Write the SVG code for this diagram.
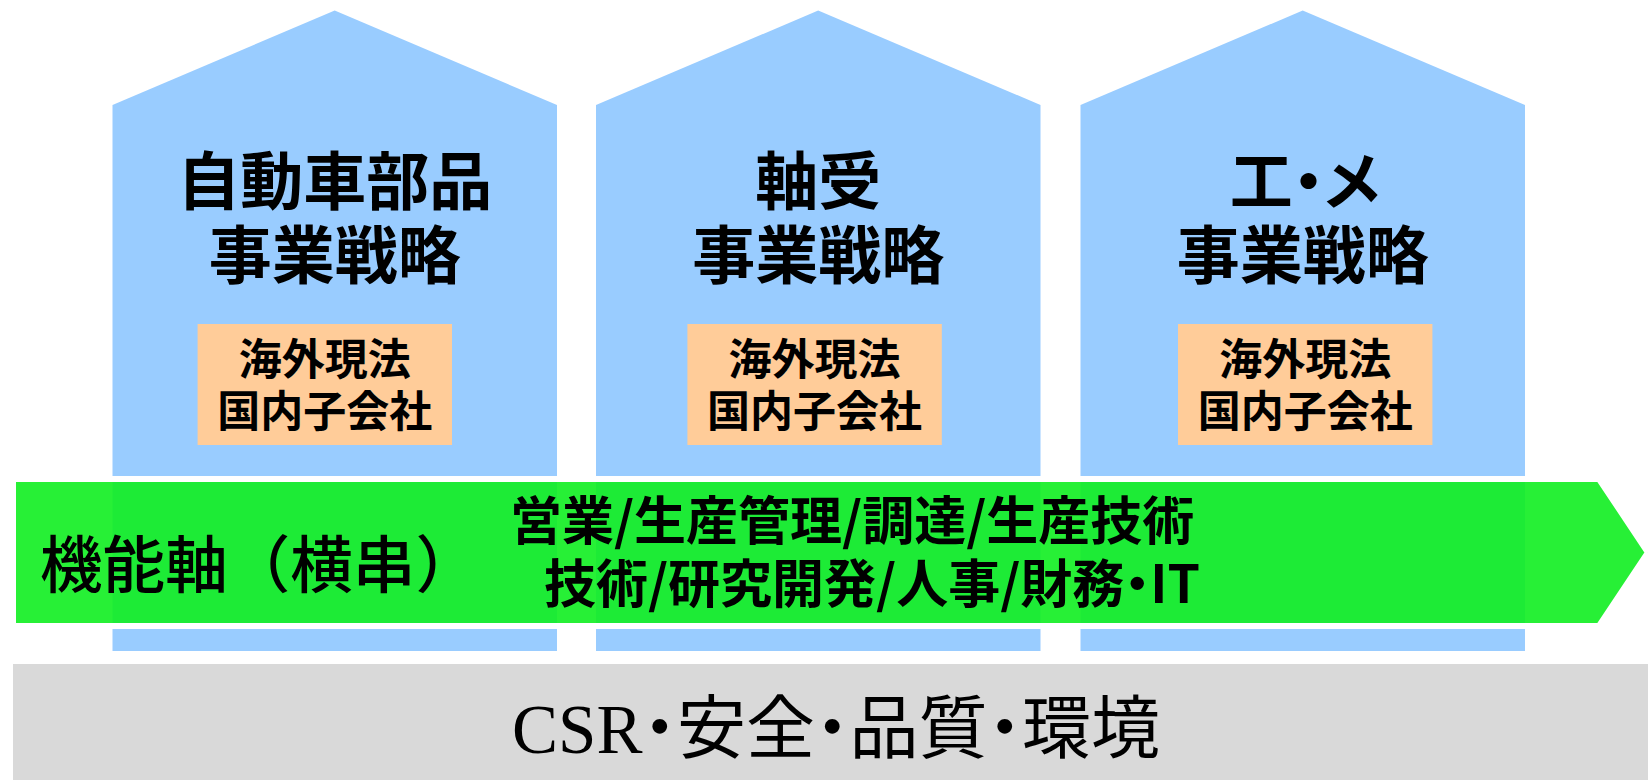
<svg xmlns="http://www.w3.org/2000/svg" width="1648" height="780" viewBox="0 0 1648 780">
<style>
.house{fill:#99ccff}
.sub{fill:#ffcc99}
.title{font-family:"Noto Sans CJK JP","Liberation Sans",sans-serif;font-weight:700;font-size:63px;fill:#000;text-anchor:middle;font-feature-settings:"palt"}
.subt{font-family:"Noto Sans CJK JP","Liberation Sans",sans-serif;font-weight:700;font-size:43px;fill:#000;text-anchor:middle}
.axis{font-family:"Noto Sans CJK JP","Liberation Sans",sans-serif;font-weight:500;font-size:62px;fill:#000}
.func{font-family:"Noto Sans CJK JP","Liberation Sans",sans-serif;font-weight:700;font-size:52px;fill:#000;font-feature-settings:"palt"}
.base{font-family:"Liberation Serif","Noto Sans CJK JP",serif;font-size:69px;fill:#000;font-feature-settings:"palt"}
</style>
<rect width="1648" height="780" fill="#ffffff"/>
<g id="house-auto">
<polygon class="house" points="112.5,105 334.7,10.5 557,105 557,651 112.5,651"/>
<text class="title" x="334.7" y="204">自動車部品</text>
<text class="title" x="334.7" y="278">事業戦略</text>
</g>
<g id="house-bearing">
<polygon class="house" points="596,105 818.2,10.5 1040.5,105 1040.5,651 596,651"/>
<text class="title" x="818.2" y="204">軸受</text>
<text class="title" x="818.2" y="278">事業戦略</text>
</g>
<g id="house-em">
<polygon class="house" points="1080.5,105 1302.7,10.5 1525,105 1525,651 1080.5,651"/>
<text class="title" x="1305" y="204">工・メ</text>
<text class="title" x="1302.7" y="278">事業戦略</text>
</g>
<g id="sub-auto">
<rect class="sub" x="197.6" y="324" width="254.4" height="121"/>
<text class="subt" x="324.8" y="375">海外現法</text>
<text class="subt" x="324.8" y="427">国内子会社</text>
</g>
<g id="sub-bearing">
<rect class="sub" x="687.4" y="324" width="254.4" height="121"/>
<text class="subt" x="814.6" y="375">海外現法</text>
<text class="subt" x="814.6" y="427">国内子会社</text>
</g>
<g id="sub-em">
<rect class="sub" x="1178" y="324" width="254.4" height="121"/>
<text class="subt" x="1305.2" y="375">海外現法</text>
<text class="subt" x="1305.2" y="427">国内子会社</text>
</g>
<g id="function-axis">
<polygon points="13,479 1599,479 1648,552.5 1599,626 13,626" fill="#10ee20" fill-opacity="0.9" stroke="#ffffff" stroke-width="6"/>
<text class="axis" x="40" y="588" textLength="438" lengthAdjust="spacingAndGlyphs">機能軸（横串）</text>
<text class="func" x="510" y="540">営業/生産管理/調達/生産技術</text>
<text class="func" x="544" y="603">技術/研究開発/人事/財務・IT</text>
</g>
<g id="foundation">
<rect x="13" y="664" width="1635" height="116" fill="#d9d9d9"/>
<text class="base" x="512" y="753">CSR・安全・品質・環境</text>
</g>
<g id="connectors"></g>
</svg>
